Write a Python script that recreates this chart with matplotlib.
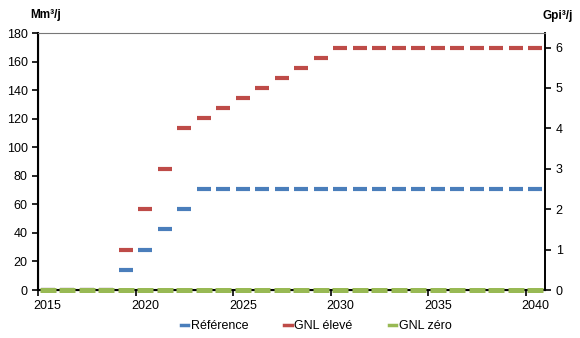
import matplotlib.pyplot as plt
import numpy as np

years = list(range(2015, 2041))
# Mm3/j
reference = [0, 0, 0, 0, 14.2, 28.3, 42.5, 56.6] + [70.8] * 18
gnl_eleve = [0, 0, 0, 0, 28.3, 56.6, 85.0, 113.3, 120.3, 127.4, 134.5,
             141.6, 148.7, 155.7, 162.8] + [169.9] * 11
gnl_zero = [0] * 26
tick_years = [2015, 2020, 2025, 2030, 2035, 2040]

plt.rcParams['font.family'] = ['Liberation Sans', 'DejaVu Sans']
fig = plt.figure(figsize=(5.8, 3.38), dpi=100)
ax = fig.add_axes([0.0655, 0.142, 0.8745, 0.760])

x = np.arange(len(years))
ax.plot(x, reference, ls='none', marker='_', ms=10.5, mew=3.0, color='#4a7ebb',
        label='Référence', clip_on=False, zorder=5)
ax.plot(x, gnl_eleve, ls='none', marker='_', ms=10.5, mew=3.0, color='#be4b48',
        label='GNL élevé', clip_on=False, zorder=6)
ax.plot(x, gnl_zero, ls='none', marker='_', ms=12, mew=3.6, color='#98b954',
        label='GNL zéro', clip_on=False, zorder=7)

ax.set_xlim(-0.5, len(years) - 0.5)
ax.set_ylim(0, 180)
ax.set_yticks(range(0, 181, 20))
ax.set_xticks([years.index(t) for t in tick_years])
ax.set_xticklabels([str(t) for t in tick_years])
ax.tick_params(axis='x', length=0, labelsize=9, pad=7)
ax.set_xticks([-0.5 + 5 * k for k in range(6)], minor=True)
ax.tick_params(axis='x', which='minor', length=4, width=1.2, direction='out')
ax.tick_params(axis='y', length=4, width=1.2, labelsize=9, direction='out')

ax.spines['left'].set_linewidth(1.5)
ax.spines['bottom'].set_linewidth(1.5)
ax.spines['top'].set_color('#777777')
ax.spines['right'].set_linewidth(1.2)

ax2 = ax.twinx()
ax2.set_ylim(0, 180 / 28.3168)
ax2.set_yticks(range(0, 7))
ax2.tick_params(axis='y', length=4, width=1.2, labelsize=9, direction='out')
ax2.spines['right'].set_linewidth(1.2)
ax2.spines['top'].set_visible(False)
ax.set_zorder(ax2.get_zorder() + 1)
ax.patch.set_visible(False)

fig.text(0.052, 0.955, 'Mm³/j', fontsize=8.5, fontweight='bold', ha='left', va='center')
fig.text(0.988, 0.952, 'Gpi³/j', fontsize=8.5, fontweight='bold', ha='right', va='center')

leg = fig.legend(loc='center', bbox_to_anchor=(0.545, 0.035), ncol=3, frameon=False,
                 fontsize=9, handlelength=0.6, handletextpad=0.2, columnspacing=2.9)
for h in leg.legend_handles:
    h.set_marker('')
    h.set_linestyle('-')
    h.set_linewidth(2.5)

fig.savefig('out.png', dpi=100)
